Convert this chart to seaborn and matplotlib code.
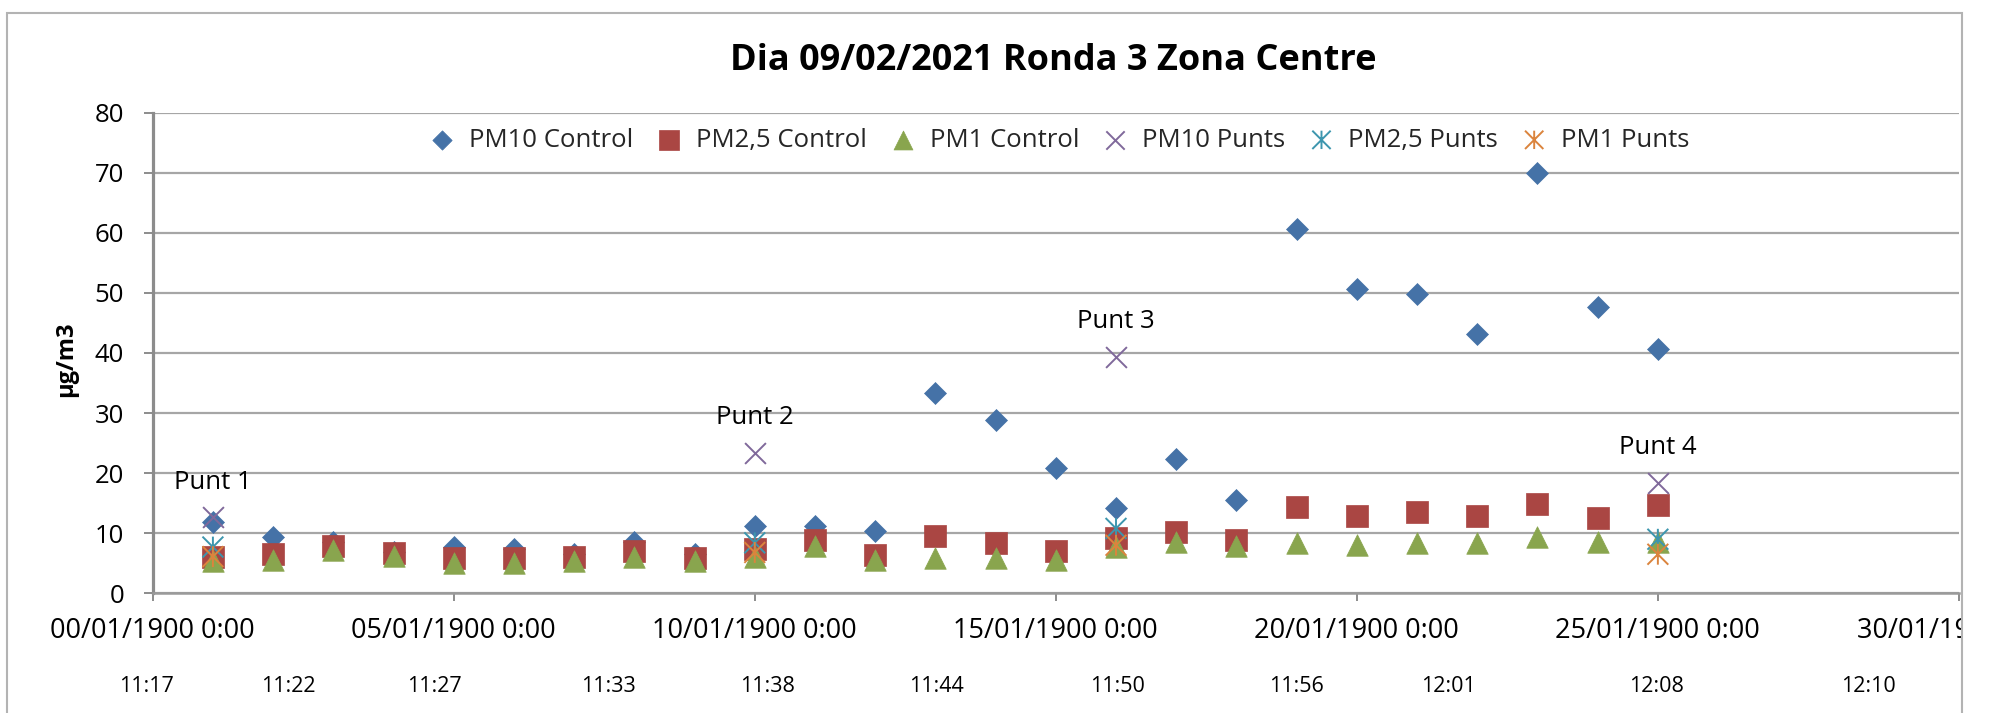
import numpy as np
import pandas as pd
import matplotlib
matplotlib.use("Agg")
import matplotlib.pyplot as plt
from matplotlib.path import Path
from matplotlib.markers import MarkerStyle
from matplotlib.patches import Rectangle
from matplotlib.transforms import Bbox, TransformedBbox, blended_transform_factory
import seaborn as sns

# ---------------- data ----------------
days = list(range(1, 26))
pm10_control = [11.8, 9.4, 8.5, 6.9, 7.7, 7.4, 6.5, 8.6, 6.5, 11.2, 11.2, 10.4, 33.3,
                28.9, 20.9, 14.2, 22.3, 15.5, 60.7, 50.7, 49.9, 43.2, 70.0, 47.7, 40.7]
pm25_control = [6.1, 6.6, 7.8, 6.7, 5.9, 5.8, 6.0, 7.0, 5.8, 7.3, 8.9, 6.4, 9.6,
                8.3, 7.0, 9.2, 10.2, 8.9, 14.4, 12.8, 13.5, 12.9, 14.8, 12.6, 14.7]
pm1_control = [5.4, 5.5, 7.2, 6.2, 5.1, 5.0, 5.4, 6.1, 5.3, 6.1, 7.9, 5.5, 5.8,
               5.8, 5.6, 7.7, 8.5, 7.8, 8.4, 8.1, 8.4, 8.4, 9.4, 8.5, 8.6]

punt_days = [1, 10, 16, 25]
pm10_punts = [12.7, 23.4, 39.4, 18.4]
pm25_punts = [7.7, 8.4, 10.8, 9.0]
pm1_punts = [6.1, 6.8, 8.0, 6.5]
punt_labels = ["Punt 1", "Punt 2", "Punt 3", "Punt 4"]

x_ticks = [0, 5, 10, 15, 20, 25, 30]
x_tick_labels = ["00/01/1900 0:00", "05/01/1900 0:00", "10/01/1900 0:00",
                 "15/01/1900 0:00", "20/01/1900 0:00", "25/01/1900 0:00",
                 "30/01/1900 0:00"]
y_ticks = [0, 10, 20, 30, 40, 50, 60, 70, 80]

time_labels = ["11:17", "11:22", "11:27", "11:33", "11:38", "11:44",
               "11:50", "11:56", "12:01", "12:08", "12:10"]
time_positions = [-0.11, 2.25, 4.68, 7.57, 10.21, 13.01, 16.02, 19.0, 21.52, 24.97, 28.5]

title = "Dia 09/02/2021 Ronda 3 Zona Centre"
y_label = "µg/m3"

# ---------------- style ----------------
sns.set_theme(style="white")
plt.rcParams['font.family'] = ['Open Sans', 'DejaVu Sans']

W, H = 1992, 713
fig = plt.figure(figsize=(W / 100, H / 100), dpi=100)
ax_left, ax_right, ax_top, ax_bottom = 152.7, 1958.9, 112.7, 593.3
ax = fig.add_axes([ax_left / W, 1 - ax_bottom / H, (ax_right - ax_left) / W,
                   (ax_bottom - ax_top) / H])

star_path = Path([(-1, -1), (1, 1), (-1, 1), (1, -1), (0, -1), (0, 1)],
                 [Path.MOVETO, Path.LINETO] * 3)
star = MarkerStyle(star_path, fillstyle='none')

series = [
    ("PM10 Control", days, pm10_control, "D", "#4572A7", 125, True),
    ("PM2,5 Control", days, pm25_control, "s", "#AA4643", 250, True),
    ("PM1 Control", days, pm1_control, "^", "#89A54E", 240, True),
    ("PM10 Punts", punt_days, pm10_punts, "x", "#80699B", 225, False),
    ("PM2,5 Punts", punt_days, pm25_punts, star, "#3D96AE", 225, False),
    ("PM1 Punts", punt_days, pm1_punts, star, "#DB843D", 225, False),
]

for i, (name, xs, ys, mk, col, size, filled) in enumerate(series):
    df = pd.DataFrame({"x": xs, "y": ys})
    kws = dict(data=df, x="x", y="y", marker=mk, s=size, color=col, ax=ax,
               label=name, zorder=3 + i)
    if filled:
        kws.update(edgecolor=col, linewidth=0.5)
    else:
        kws.update(linewidth=1.4)
    sns.scatterplot(**kws)

# point labels
for d, v, lab in zip(punt_days, pm10_punts, punt_labels):
    ax.annotate(lab, (d, v), xytext=(0, 20.5), textcoords='offset points',
                ha='center', va='baseline', fontsize=18.5, color='black', zorder=10)

# axes
ax.set_xlim(0, 30)
ax.set_ylim(0, 80)
ax.set_xticks(x_ticks)
ax.set_xticklabels(x_tick_labels)
ax.set_yticks(y_ticks)
ax.set_xlabel("")
ax.yaxis.grid(True, color='#A6A6A6', linewidth=1.6)
ax.xaxis.grid(False)
ax.set_axisbelow(True)
for side in ("top", "right"):
    ax.spines[side].set_visible(False)
ax.spines["left"].set_color('#8C8C8C')
ax.spines["left"].set_linewidth(2.3)
ax.spines["bottom"].set_color('#9A9A9A')
ax.spines["bottom"].set_linewidth(1.8)
ax.tick_params(axis='x', bottom=True, direction='out', length=5.8, width=1.4,
               color='#8C8C8C', pad=11, labelsize=19.5, labelcolor='black')
ax.tick_params(axis='y', left=True, direction='out', length=6.5, width=1.4,
               color='#8C8C8C', pad=14, labelsize=18.5, labelcolor='black')

ax.set_ylabel(y_label, fontsize=17, fontweight='bold', color='black')
ax.yaxis.set_label_coords(-0.048, 0.4875)
ax.yaxis.label.set_va('center')

# legend
handles, labels = ax.get_legend_handles_labels()
ax.legend(handles, labels, loc='center', bbox_to_anchor=(0.5023, 0.943), ncol=6,
          frameon=False, fontsize=18.5, handlelength=0.9, handletextpad=0.6,
          columnspacing=0.95, borderaxespad=0, markerscale=0.88)

# secondary time labels
trans = blended_transform_factory(ax.transData, ax.transAxes)
for pos, lab in zip(time_positions, time_labels):
    ax.text(pos, -0.2054, lab, transform=trans, ha='center', va='baseline',
            fontsize=15.5, color='black', clip_on=False)

# title
fig.text(1053 / W, 1 - 70 / H, title, ha='center', va='baseline', fontsize=26,
         fontweight='bold', color='black')

# outer chart border
fig.add_artist(Rectangle((7 / W, -0.1), (1962 - 7) / W, 1 - 13 / H + 0.1,
                         transform=fig.transFigure, fill=False,
                         edgecolor='#B3B3B3', linewidth=1.5, clip_on=False))

# clip tick labels at chart border
clip_box = TransformedBbox(Bbox([[0, 0], [1962 / W, 1]]), fig.transFigure)
for lbl in ax.get_xticklabels():
    lbl.set_clip_on(True)
    lbl.set_clip_box(clip_box)

fig.savefig("out.png", dpi=100)
